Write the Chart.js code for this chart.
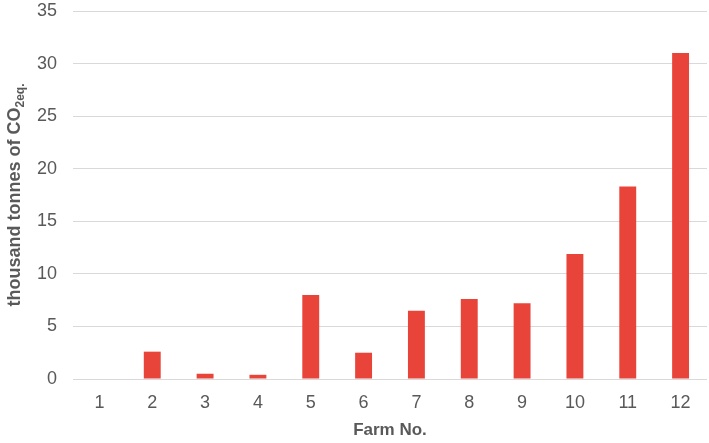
<!DOCTYPE html>
<html>
<head>
<meta charset="utf-8">
<script src="https://cdn.jsdelivr.net/npm/chart.js@4"></script>
<style>
  html, body { margin: 0; padding: 0; background: #fff; }
  #wrap { width: 709px; height: 443px; }
</style>
</head>
<body>
<div id="wrap"><canvas id="chart"></canvas></div>
<script>
// Emissions per farm
const farms = ['1', '2', '3', '4', '5', '6', '7', '8', '9', '10', '11', '12'];
const emissions = [0, 2.6, 0.5, 0.4, 8.0, 2.5, 6.5, 7.6, 7.2, 11.9, 18.3, 31.0];
const yTicks = [0, 5, 10, 15, 20, 25, 30, 35];

const FONT = "'Liberation Sans', Arial, sans-serif";
const TEXT = '#595959';

// y title has a subscript, so draw it by hand
const yTitlePlugin = {
    id: 'yTitle',
    afterDraw(chart) {
        const { ctx, chartArea } = chart;
        const main = 'thousand tonnes of CO';
        const sub = '2eq.';
        ctx.save();
        ctx.font = `bold 18px ${FONT}`;
        const w1 = ctx.measureText(main).width;
        ctx.font = `bold 12px ${FONT}`;
        const w2 = ctx.measureText(sub).width;
        const total = w1 + w2;
        const cy = (chartArea.top + chartArea.bottom) / 2;
        ctx.translate(20, cy);
        ctx.rotate(-Math.PI / 2);
        ctx.fillStyle = TEXT;
        ctx.textBaseline = 'alphabetic';
        ctx.textAlign = 'left';
        ctx.font = `bold 18px ${FONT}`;
        ctx.fillText(main, -total / 2, 0);
        ctx.font = `bold 12px ${FONT}`;
        ctx.fillText(sub, -total / 2 + w1, 4);
        ctx.restore();
    }
};

new Chart(document.getElementById('chart'), {
    type: 'bar',
    data: {
        labels: farms,
        datasets: [{
            data: emissions,
            backgroundColor: '#E9443A',
            barPercentage: 0.32,
            categoryPercentage: 1,
        }]
    },
    options: {
        responsive: true,
        maintainAspectRatio: false,
        animation: false,
        layout: { padding: { top: 11, right: 2, left: 0, bottom: 0 } },
        plugins: {
            legend: { display: false },
            tooltip: { enabled: false },
        },
        scales: {
            x: {
                grid: { display: false },
                border: { display: false },
                ticks: { color: TEXT, font: { family: FONT, size: 18 }, padding: 5 },
                title: {
                    display: true,
                    text: 'Farm No.',
                    color: TEXT,
                    font: { family: FONT, size: 17, weight: 'bold' },
                    padding: { top: 0, bottom: 2 },
                },
                afterFit: s => { s.height = 64; },
            },
            y: {
                min: 0,
                max: 35,
                afterBuildTicks: s => { s.ticks = yTicks.map(v => ({ value: v })); },
                grid: { color: '#D9D9D9', lineWidth: 1, drawTicks: false },
                border: { display: false },
                ticks: { color: TEXT, font: { family: FONT, size: 18 }, padding: 16 },
                afterFit: s => { s.width = 73; s.paddingTop = 0; s.paddingBottom = 0; },
            }
        }
    },
    plugins: [yTitlePlugin]
});
</script>
</body>
</html>
